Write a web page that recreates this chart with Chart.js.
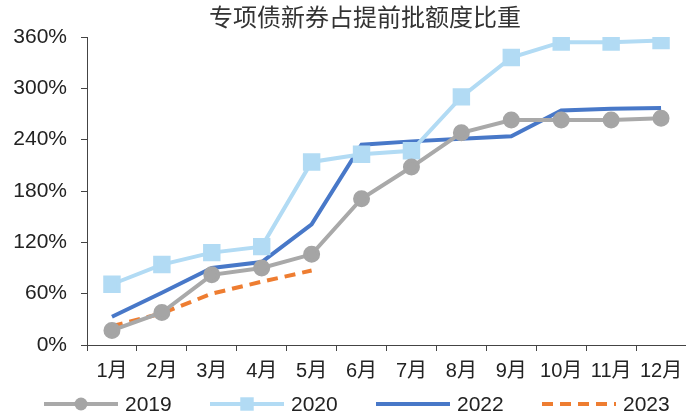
<!DOCTYPE html>
<html>
<head>
<meta charset="utf-8">
<script src="https://cdn.jsdelivr.net/npm/chart.js@4/dist/chart.umd.min.js"></script>
<style>
html,body{margin:0;padding:0;background:#fff;}
#wrap{width:686px;height:417px;position:relative;}
</style>
</head>
<body>
<div id="wrap"><canvas id="c" width="686" height="417"></canvas></div>
<script>
const chartTitle = '专项债新券占提前批额度比重';
const months = ['1月','2月','3月','4月','5月','6月','7月','8月','9月','10月','11月','12月'];
const yTickValues = [0, 60, 120, 180, 240, 300, 360];
const seriesNames = ['2019', '2020', '2022', '2023'];
const s2019 = [17, 38, 82, 90, 106, 171, 208, 248, 263, 263, 263, 265];
const s2020 = [71, 94, 108, 115, 214, 223, 227, 290, 336, 354, 354, 356];
const s2022 = [33, 61, 90, 97, 141, 234, 238, 241, 244, 274, 276, 277];
const s2023 = [22, 37, 60, 74, 87];

const FONT = "'Liberation Sans', Arial, 'Noto Sans CJK SC', sans-serif";

const titlePlugin = {
  id: 'customTitle',
  afterDraw(chart) {
    const ctx = chart.ctx;
    ctx.save();
    ctx.fillStyle = '#333';
    ctx.font = "24px 'Noto Sans CJK SC', sans-serif";
    ctx.textAlign = 'center';
    ctx.textBaseline = 'middle';
    ctx.fillText(chartTitle, 365, 17);
    ctx.restore();
  }
};

const legendPlugin = {
  id: 'customLegend',
  afterDraw(chart) {
    const ctx = chart.ctx;
    const starts = [44, 210, 376, 542];
    const lineLen = 74;
    const y = 404;
    ctx.save();
    chart.data.datasets.forEach((ds, i) => {
      const x0 = starts[i], x1 = x0 + lineLen;
      ctx.strokeStyle = ds.borderColor;
      ctx.lineWidth = ds.borderWidth;
      ctx.setLineDash(ds.borderDash || []);
      ctx.beginPath();
      ctx.moveTo(x0, y);
      ctx.lineTo(x1, y);
      ctx.stroke();
      ctx.setLineDash([]);
      if (ds.pointRadius > 0) {
        ctx.fillStyle = ds.pointBackgroundColor;
        const cx = (x0 + x1) / 2;
        if (ds.pointStyle === 'rect') {
          const h = ds.pointRadius * Math.SQRT1_2;
          ctx.fillRect(cx - h, y - h, 2 * h, 2 * h);
        } else {
          ctx.beginPath();
          ctx.arc(cx, y, ds.pointRadius, 0, Math.PI * 2);
          ctx.fill();
        }
      }
      ctx.fillStyle = '#222';
      ctx.font = '21px ' + FONT;
      ctx.textAlign = 'left';
      ctx.textBaseline = 'middle';
      ctx.fillText(ds.label, x1 + 7, y + 1);
    });
    ctx.restore();
  }
};

new Chart(document.getElementById('c'), {
  type: 'line',
  data: {
    labels: months,
    datasets: [
      {
        label: seriesNames[0], data: s2019,
        borderColor: '#A9A9A9', backgroundColor: '#A5A5A5',
        pointBackgroundColor: '#A5A5A5', pointBorderColor: '#A5A5A5',
        borderWidth: 4, pointRadius: 6.5, pointStyle: 'circle', tension: 0
      },
      {
        label: seriesNames[1], data: s2020,
        borderColor: '#B2DBF4', backgroundColor: '#B2DBF4',
        pointBackgroundColor: '#B2DBF4', pointBorderColor: '#B2DBF4',
        borderWidth: 4, pointRadius: 9.5, pointStyle: 'rect', tension: 0
      },
      {
        label: seriesNames[2], data: s2022,
        borderColor: '#4878C8', backgroundColor: '#4878C8',
        borderWidth: 4, pointRadius: 0, tension: 0
      },
      {
        label: seriesNames[3], data: s2023,
        borderColor: '#EE7D31', backgroundColor: '#EE7D31',
        borderWidth: 4, borderDash: [11, 7], pointRadius: 0, tension: 0
      }
    ]
  },
  options: {
    responsive: false,
    animation: false,
    devicePixelRatio: 1,
    layout: { autoPadding: false, padding: { top: 37, bottom: 30, left: 0, right: 0 } },
    plugins: {
      legend: { display: false },
      title: { display: false },
      tooltip: { enabled: false }
    },
    scales: {
      x: {
        offset: true,
        grid: { display: true, offset: true, drawOnChartArea: false, drawTicks: true, tickLength: 6, color: '#444', lineWidth: 1 },
        border: { display: true, color: '#444', width: 1 },
        ticks: { color: '#222', font: { size: 20, family: FONT }, padding: 8, maxRotation: 0, autoSkip: false },
        afterFit: s => { s.height = 42; s.paddingLeft = 0; s.paddingRight = 0; }
      },
      y: {
        min: 0, max: 360,
        afterBuildTicks: s => { s.ticks = yTickValues.map(v => ({ value: v })); },
        grid: { display: true, drawOnChartArea: false, drawTicks: true, tickLength: 6, color: '#444', lineWidth: 1 },
        border: { display: true, color: '#444', width: 1 },
        ticks: { color: '#222', font: { size: 21, family: FONT }, padding: 14, callback: v => v + '%' },
        afterFit: s => { s.width = 87; s.paddingTop = 0; s.paddingBottom = 0; }
      }
    }
  },
  plugins: [titlePlugin, legendPlugin]
});
</script>
</body>
</html>
